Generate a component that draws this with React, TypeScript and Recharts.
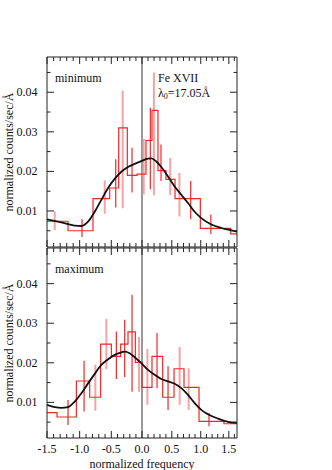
import React from 'react';
import { ComposedChart, Line, Scatter, ErrorBar, XAxis, YAxis, ReferenceLine } from 'recharts';

// ---- axis ticks (normalized frequency / counts) ----
const xMajorTicks = [-1.5, -1.0, -0.5, 0.0, 0.5, 1.0, 1.5];
const xTickLabels = ['-1.5', '-1.0', '-0.5', '0.0', '0.5', '1.0', '1.5'];
const xMinorTicks = [-1.4, -1.3, -1.2, -1.1, -0.9, -0.8, -0.7, -0.6, -0.4, -0.3, -0.2, -0.1, 0.1, 0.2, 0.3, 0.4, 0.6, 0.7, 0.8, 0.9, 1.1, 1.2, 1.3, 1.4, 1.6];
const yMajorTicks = [0.01, 0.02, 0.03, 0.04];
const yTickLabels = ['0.01', '0.02', '0.03', '0.04'];
const yMinorTicks = [0.005, 0.015, 0.025, 0.035, 0.045];
const xDomain = [-1.5, 1.648];

// ---- minimum ----
const minBinEdges = [-1.5, -1.18, -0.791, -0.526, -0.381, -0.241, -0.082, 0.066, 0.166, 0.266, 0.401, 0.555, 0.993, 1.533, 1.648];
const minBinValues = [0.0074, 0.005, 0.0131, 0.0158, 0.031, 0.019, 0.0193, 0.0278, 0.0354, 0.0202, 0.018, 0.0131, 0.0056, 0.0042];
const minErrX = [-1.383, -0.963, -0.605, -0.429, -0.316, -0.164, 0.028, 0.138, 0.198, 0.317, 0.473, 0.63, 0.825, 1.179];
const minErrLo = [0.0052, 0.0034, 0.0093, 0.0109, 0.0107, 0.0147, 0.0142, 0.0155, 0.014, 0.0176, 0.014, 0.0086, 0.0079, 0.0042];
const minErrHi = [0.0099, 0.0079, 0.0177, 0.0231, 0.0404, 0.026, 0.0282, 0.0361, 0.045, 0.0268, 0.0234, 0.0196, 0.0176, 0.0091];
const minErrPale = [1, 0, 1, 0, 1, 0, 1, 0, 1, 0, 1, 1, 0, 0];
const minCurveX = [-1.5, -1.282, -1.077, -0.972, -0.869, -0.764, -0.659, -0.552, -0.446, -0.338, -0.23, -0.12, -0.011, 0.1, 0.155, 0.238, 0.322, 0.436, 0.549, 0.663, 0.778, 0.894, 1.01, 1.186, 1.365, 1.545, 1.648];
const minCurveY = [0.0079, 0.0071, 0.0063, 0.0062, 0.0073, 0.0098, 0.0128, 0.0158, 0.0181, 0.0199, 0.0211, 0.0219, 0.0226, 0.0232, 0.0233, 0.0225, 0.0211, 0.0187, 0.0162, 0.0141, 0.012, 0.0098, 0.0082, 0.0066, 0.0057, 0.0051, 0.0048];

// ---- maximum ----
const maxBinEdges = [-1.5, -1.348, -1.051, -0.843, -0.67, -0.499, -0.349, -0.23, -0.11, 0.0, 0.166, 0.345, 0.538, 0.709, 0.97, 1.412, 1.648];
const maxBinValues = [0.0074, 0.0063, 0.0154, 0.0113, 0.0247, 0.0216, 0.0247, 0.0278, 0.0201, 0.0138, 0.0216, 0.0113, 0.0185, 0.0138, 0.0052, 0.0046];
const maxErrX = [-1.18, -0.931, -0.754, -0.579, -0.419, -0.284, -0.164, -0.049, 0.089, 0.25, 0.436, 0.634, 0.79, 1.145];
const maxErrLo = [0.0043, 0.0077, 0.0079, 0.0184, 0.0159, 0.0164, 0.0127, 0.0127, 0.0094, 0.0136, 0.0081, 0.0094, 0.0081, 0.004];
const maxErrHi = [0.0106, 0.0205, 0.0195, 0.0311, 0.0279, 0.0309, 0.0372, 0.0265, 0.0235, 0.0275, 0.0191, 0.024, 0.0186, 0.0073];
const maxErrPale = [0, 0, 1, 1, 0, 0, 0, 1, 1, 0, 0, 1, 1, 0];
const maxCurveX = [-1.5, -1.383, -1.282, -1.18, -1.077, -0.973, -0.869, -0.764, -0.659, -0.552, -0.446, -0.365, -0.284, -0.203, -0.12, -0.011, 0.1, 0.21, 0.322, 0.436, 0.549, 0.663, 0.778, 0.894, 1.01, 1.128, 1.305, 1.485, 1.648];
const maxCurveY = [0.0094, 0.0088, 0.0086, 0.0088, 0.0102, 0.0123, 0.0148, 0.0172, 0.0195, 0.0209, 0.022, 0.0225, 0.0228, 0.0224, 0.0214, 0.0199, 0.0182, 0.017, 0.0159, 0.0153, 0.0147, 0.0136, 0.0119, 0.0098, 0.0081, 0.007, 0.0059, 0.0051, 0.0048];

const FONT = '"Liberation Serif", "Times New Roman", serif';
const FRAME = '#222';
const RED = '#f02828';
const PINK = '#f7a3a3';

const allXTicks = [...xMajorTicks, ...xMinorTicks].sort((a, b) => a - b);
const allYTicks = [...yMajorTicks, ...yMinorTicks].sort((a, b) => a - b);

// The frequency axis is linear in wavelength, so the normalized-frequency ticks are not evenly spaced.
const K_WARP = 0.03;
const warp = (v: number) => v / (1 + K_WARP * v);
const unwarp = (t: number) => t / (1 - K_WARP * t);

function makeWarpScale(): any {
  let dom: number[] = [0, 1];
  let rng: number[] = [0, 1];
  const s: any = (v: any) => {
    const a = warp(dom[0]);
    const b = warp(dom[dom.length - 1]);
    const r0 = rng[0];
    const r1 = rng[rng.length - 1];
    return r0 + ((warp(Number(v)) - a) / (b - a)) * (r1 - r0);
  };
  s.domain = (d?: any[]) => {
    if (d === undefined) return dom.slice();
    dom = d.map(Number);
    return s;
  };
  s.range = (r?: any[]) => {
    if (r === undefined) return rng.slice();
    rng = r.map(Number);
    return s;
  };
  s.copy = () => makeWarpScale().domain(dom).range(rng);
  s.invert = (p: number) => {
    const a = warp(dom[0]);
    const b = warp(dom[dom.length - 1]);
    const r0 = rng[0];
    const r1 = rng[rng.length - 1];
    return unwarp(a + ((p - r0) / (r1 - r0)) * (b - a));
  };
  s.ticks = () => allXTicks;
  s.tickFormat = () => (v: number) => String(v);
  s.nice = () => s;
  s.clamp = () => s;
  return s;
}

const near = (arr: number[], v: number) => arr.findIndex((t) => Math.abs(t - v) < 1e-6);

const textStyle = { fontFamily: FONT, fontSize: 12, fill: '#111' } as const;

function XTick(props: any) {
  const { x, y, payload, side, showLabels } = props;
  const idx = near(xMajorTicks, payload.value);
  const len = idx >= 0 ? 7 : 4;
  const dir = side === 'top' ? 1 : -1;
  return (
    <g>
      <line x1={x} x2={x} y1={y} y2={y + dir * len} stroke={FRAME} strokeWidth={1} />
      {showLabels && idx >= 0 ? (
        <text x={x} y={y + 15} textAnchor="middle" style={textStyle}>
          {xTickLabels[idx]}
        </text>
      ) : null}
    </g>
  );
}

function YTick(props: any) {
  const { x, y, payload, side } = props;
  const idx = near(yMajorTicks, payload.value);
  const len = idx >= 0 ? 7 : 3.5;
  const dir = side === 'left' ? 1 : -1;
  return (
    <g>
      <line x1={x} x2={x + dir * len} y1={y} y2={y} stroke={FRAME} strokeWidth={1} />
      {side === 'left' && idx >= 0 ? (
        <text x={x - 9.5} y={y + 4} textAnchor="end" style={textStyle}>
          {yTickLabels[idx]}
        </text>
      ) : null}
    </g>
  );
}

type PanelProps = {
  top: number;
  height: number;
  margin: { top: number; right: number; bottom: number; left: number };
  binEdges: number[];
  binValues: number[];
  errX: number[];
  errLo: number[];
  errHi: number[];
  errPale: number[];
  curveX: number[];
  curveY: number[];
  yDomain: number[];
  showXLabels: boolean;
};

function Panel(p: PanelProps) {
  const stepData = p.binEdges.map((x, i) => ({ x, y: p.binValues[Math.min(i, p.binValues.length - 1)] }));
  const curveData = p.curveX.map((x, i) => ({ x, y: p.curveY[i] }));
  const errData = p.errX.map((x, i) => ({
    x,
    y: (p.errLo[i] + p.errHi[i]) / 2,
    e: (p.errHi[i] - p.errLo[i]) / 2,
    pale: p.errPale[i],
  }));
  const redErr = errData.filter((d) => !d.pale);
  const paleErr = errData.filter((d) => d.pale);
  const noShape = () => <g />;
  return (
    <div style={{ position: 'absolute', left: 0, top: p.top }}>
      <ComposedChart width={332} height={p.height} margin={p.margin}>
        <XAxis
          xAxisId="b"
          dataKey="x"
          type="number"
          domain={xDomain}
          scale={makeWarpScale()}
          ticks={allXTicks}
          interval={0}
          allowDataOverflow
          height={1}
          tickSize={0}
          tickMargin={0}
          tickLine={false}
          axisLine={{ stroke: FRAME, strokeWidth: 1 }}
          tick={(tp: any) => <XTick {...tp} side="bottom" showLabels={p.showXLabels} />}
        />
        <XAxis
          xAxisId="t"
          orientation="top"
          dataKey="x"
          type="number"
          domain={xDomain}
          scale={makeWarpScale()}
          ticks={allXTicks}
          interval={0}
          allowDataOverflow
          height={1}
          tickSize={0}
          tickMargin={0}
          tickLine={false}
          axisLine={{ stroke: FRAME, strokeWidth: 1 }}
          tick={(tp: any) => <XTick {...tp} side="top" showLabels={false} />}
        />
        <YAxis
          yAxisId="l"
          dataKey="y"
          type="number"
          domain={p.yDomain}
          ticks={allYTicks}
          interval={0}
          allowDataOverflow
          width={1}
          tickSize={0}
          tickMargin={0}
          tickLine={false}
          axisLine={{ stroke: FRAME, strokeWidth: 1 }}
          tick={(tp: any) => <YTick {...tp} side="left" />}
        />
        <YAxis
          yAxisId="r"
          orientation="right"
          type="number"
          domain={p.yDomain}
          ticks={allYTicks}
          interval={0}
          allowDataOverflow
          width={1}
          tickSize={0}
          tickMargin={0}
          tickLine={false}
          axisLine={{ stroke: FRAME, strokeWidth: 1 }}
          tick={(tp: any) => <YTick {...tp} side="right" />}
        />
        <ReferenceLine xAxisId="b" yAxisId="l" x={0} stroke="#333" strokeWidth={1} />
        <Scatter xAxisId="b" yAxisId="l" data={paleErr} dataKey="y" shape={noShape} isAnimationActive={false}>
          <ErrorBar dataKey="e" direction="y" width={0} stroke={PINK} strokeWidth={2} isAnimationActive={false} />
        </Scatter>
        <Line
          xAxisId="b"
          yAxisId="l"
          data={stepData}
          dataKey="y"
          type="stepAfter"
          stroke={RED}
          strokeWidth={1.2}
          dot={false}
          activeDot={false}
          isAnimationActive={false}
        />
        <Scatter xAxisId="b" yAxisId="l" data={redErr} dataKey="y" shape={noShape} isAnimationActive={false}>
          <ErrorBar dataKey="e" direction="y" width={0} stroke={RED} strokeWidth={1.2} isAnimationActive={false} />
        </Scatter>
        <Line
          xAxisId="b"
          yAxisId="l"
          data={curveData}
          dataKey="y"
          type="monotone"
          stroke="#111"
          strokeWidth={1.8}
          dot={false}
          activeDot={false}
          isAnimationActive={false}
        />
      </ComposedChart>
    </div>
  );
}

export default function App() {
  return (
    <div style={{ position: 'absolute', left: 0, top: 0, width: 332, height: 470, background: '#fff' }}>
      <Panel
        top={0}
        height={250}
        margin={{ top: 56, right: 94, bottom: 2, left: 46 }}
        binEdges={minBinEdges}
        binValues={minBinValues}
        errX={minErrX}
        errLo={minErrLo}
        errHi={minErrHi}
        errPale={minErrPale}
        curveX={minCurveX}
        curveY={minCurveY}
        yDomain={[0.0009, 0.0489]}
        showXLabels={false}
      />
      <Panel
        top={230}
        height={240}
        margin={{ top: 17, right: 94, bottom: 31, left: 46 }}
        binEdges={maxBinEdges}
        binValues={maxBinValues}
        errX={maxErrX}
        errLo={maxErrLo}
        errHi={maxErrHi}
        errPale={maxErrPale}
        curveX={maxCurveX}
        curveY={maxCurveY}
        yDomain={[0.001, 0.049]}
        showXLabels={true}
      />
      <svg width={332} height={470} style={{ position: 'absolute', left: 0, top: 0, pointerEvents: 'none' }}>
        <text x={55} y={81.5} style={textStyle}>minimum</text>
        <text x={158} y={81.5} style={textStyle}>Fe XVII</text>
        <text x={158} y={96.5} style={textStyle}>
          λ<tspan dy={2.5} fontSize={8}>0</tspan>
          <tspan dy={-2.5}>=17.05Å</tspan>
        </text>
        <text x={55} y={272.5} style={textStyle}>maximum</text>
        <text x={13} y={152} textAnchor="middle" transform="rotate(-90 13 152)" style={textStyle}>
          normalized counts/sec/Å
        </text>
        <text x={13} y={343} textAnchor="middle" transform="rotate(-90 13 343)" style={textStyle}>
          normalized counts/sec/Å
        </text>
        <text x={142} y={467.5} textAnchor="middle" style={textStyle}>
          normalized frequency
        </text>
      </svg>
    </div>
  );
}
